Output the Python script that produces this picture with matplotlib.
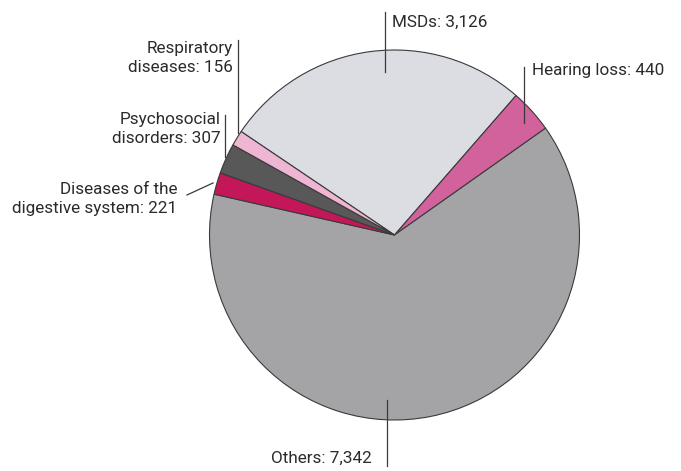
import matplotlib.pyplot as plt

labels = ["MSDs", "Hearing loss", "Others", "Diseases of the\ndigestive system",
          "Psychosocial\ndisorders", "Respiratory\ndiseases"]
values = [3126, 440, 7342, 221, 307, 156]
colors = ["#dcdde3", "#d2629c", "#a4a4a6", "#c4175a", "#585858", "#efb6d3"]

W, H = 681, 471
fig = plt.figure(figsize=(W / 100, H / 100), dpi=100)
ax = fig.add_axes([0, 0, 1, 1])

# pie in pixel coordinates (y measured from bottom)
cx, cy, r = 394.5, H - 235, 185
ax.pie(values, colors=colors, startangle=146, counterclock=False,
       center=(cx, cy), radius=r,
       wedgeprops=dict(edgecolor="#3a3a3a", linewidth=0.8))
ax.set_xlim(0, W)
ax.set_ylim(0, H)
ax.set_aspect("equal")
ax.axis("off")

def py(y):
    return H - y

txt = dict(fontsize=12.3, color="#2b2b2b", family="Roboto")
lc = dict(color="#3a3a3a", lw=0.9)

def label(i):
    return f"{labels[i]}: {values[i]:,}"

# MSDs
ax.plot([385, 385], [py(12), py(72)], **lc)
ax.text(392, py(22), label(0), ha="left", va="center", **txt)
# Hearing loss
ax.plot([524, 524], [py(67), py(123)], **lc)
ax.text(532, py(70), label(1), ha="left", va="center", **txt)
# Others
ax.plot([387, 387], [py(400), py(466)], **lc)
ax.text(372, py(458), label(2), ha="right", va="center", **txt)
# Digestive
ax.plot([187, 213], [py(195), py(183)], **lc)
ax.text(177, py(199), label(3), ha="right", va="center", linespacing=1.3, **txt)
# Psychosocial
ax.plot([225, 225], [py(115), py(157)], **lc)
ax.text(221, py(129), label(4), ha="right", va="center", linespacing=1.3, **txt)
# Respiratory
ax.plot([238, 238], [py(40), py(133)], **lc)
ax.text(233, py(58), label(5), ha="right", va="center", linespacing=1.3, **txt)

fig.savefig("out.png", dpi=100)
